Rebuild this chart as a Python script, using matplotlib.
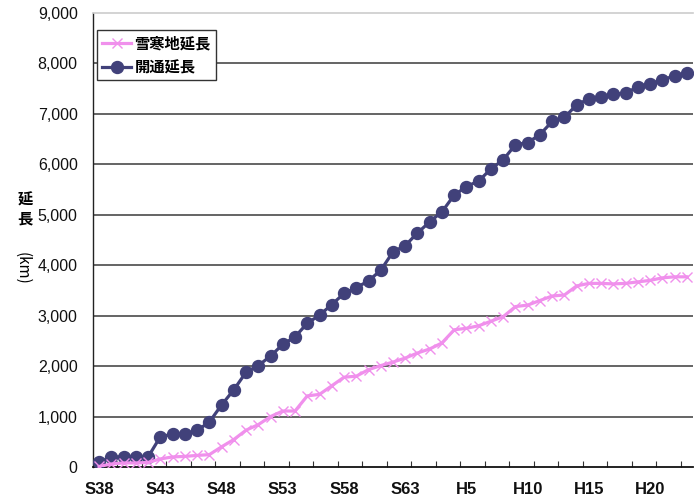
import matplotlib
matplotlib.use('Agg')
import matplotlib.pyplot as plt
from matplotlib.ticker import FuncFormatter, FixedLocator

plt.rcParams['font.family'] = ['Liberation Sans', 'Noto Sans CJK JP', 'DejaVu Sans']

# categories: S38 .. S63, H1 .. H23
categories = [f"S{y}" for y in range(38, 64)] + [f"H{y}" for y in range(1, 24)]

kaitsu = [90, 200, 200, 200, 200, 600, 650, 660, 725, 890,
          1230, 1530, 1880, 2010, 2200, 2430, 2580, 2850, 3010, 3220,
          3440, 3555, 3690, 3900, 4265, 4390, 4640, 4860, 5060, 5390,
          5560, 5670, 5910, 6090, 6390, 6430, 6590, 6850, 6930, 7180,
          7300, 7340, 7390, 7410, 7540, 7600, 7670, 7760, 7810]

sekkan = [10, 60, 80, 80, 90, 160, 200, 210, 230, 245,
          400, 545, 730, 840, 1000, 1110, 1110, 1410, 1440, 1610,
          1780, 1800, 1930, 2010, 2080, 2160, 2260, 2340, 2460, 2720,
          2750, 2800, 2890, 2980, 3180, 3210, 3300, 3390, 3410, 3590,
          3640, 3640, 3630, 3640, 3670, 3700, 3750, 3770, 3770]

label_names = ["雪寒地延長", "開通延長"]
yticks = list(range(0, 9001, 1000))

W, H = 694, 504
fig = plt.figure(figsize=(W / 100, H / 100), dpi=100)
ax = fig.add_axes([93 / W, (H - 467) / H, (693 - 93) / W, (467 - 13) / H])

x = list(range(len(categories)))
dark = '#41417A'
pink = '#F090EC'

l2, = ax.plot(x, kaitsu, color=dark, lw=2.3, marker='o', ms=8.6,
              mfc=dark, mec=dark, zorder=3, label=label_names[1])
l1, = ax.plot(x, sekkan, color=pink, lw=2.3, marker='x', ms=7.5,
              mew=1.0, mec=pink, zorder=4, label=label_names[0])

ax.set_xlim(-0.5, len(categories) - 0.5)
ax.set_ylim(0, 9000)
ax.yaxis.set_major_locator(FixedLocator(yticks))
ax.yaxis.set_major_formatter(FuncFormatter(lambda v, p: f"{int(v):,}"))
ax.tick_params(axis='y', length=0, pad=11, labelsize=11.5, colors='#111111')

lab_pos = [i for i in x if i % 5 == 0]
ax.set_xticks(lab_pos)
ax.set_xticklabels([categories[i] for i in lab_pos], fontsize=12,
                   fontweight='bold', color='#111111')
ax.tick_params(axis='x', which='major', length=0, pad=11)
ax.set_xticks([i + 0.5 for i in x[1:-1:2]], minor=True)
ax.tick_params(axis='x', which='minor', direction='in', length=4,
               width=0.8, color='#333333')

for v in yticks[1:-1]:
    ax.axhline(v, color='#3a3a3a', lw=1.1, zorder=1)

ax.spines['right'].set_visible(False)
ax.spines['top'].set_color('#cccccc')
ax.spines['top'].set_linewidth(1.2)
ax.spines['left'].set_color('#222222')
ax.spines['left'].set_linewidth(1.0)
ax.spines['bottom'].set_color('#111111')
ax.spines['bottom'].set_linewidth(1.3)

leg = ax.legend(handles=[l1, l2], loc='upper left',
                bbox_to_anchor=(97 / W, 1 - 30 / H), bbox_transform=fig.transFigure,
                borderaxespad=0, frameon=True, fancybox=False, framealpha=1,
                edgecolor='#333333', handlelength=1.9, handletextpad=0.2,
                borderpad=0.35, labelspacing=0.5,
                prop={'family': ['Noto Sans CJK JP'], 'weight': 'bold', 'size': 11})
leg.get_frame().set_linewidth(1.0)

fig.text(25 / W, 1 - 209 / H, "延\n長", ha='center', va='center', fontsize=11,
         fontweight='bold', family=['Noto Sans CJK JP'], linespacing=1.25)
fig.text(22 / W, 1 - 268 / H, "(km)", ha='center', va='center', fontsize=11,
         rotation=-90, family=['Noto Sans CJK JP'])

fig.savefig('out.png', dpi=100)
